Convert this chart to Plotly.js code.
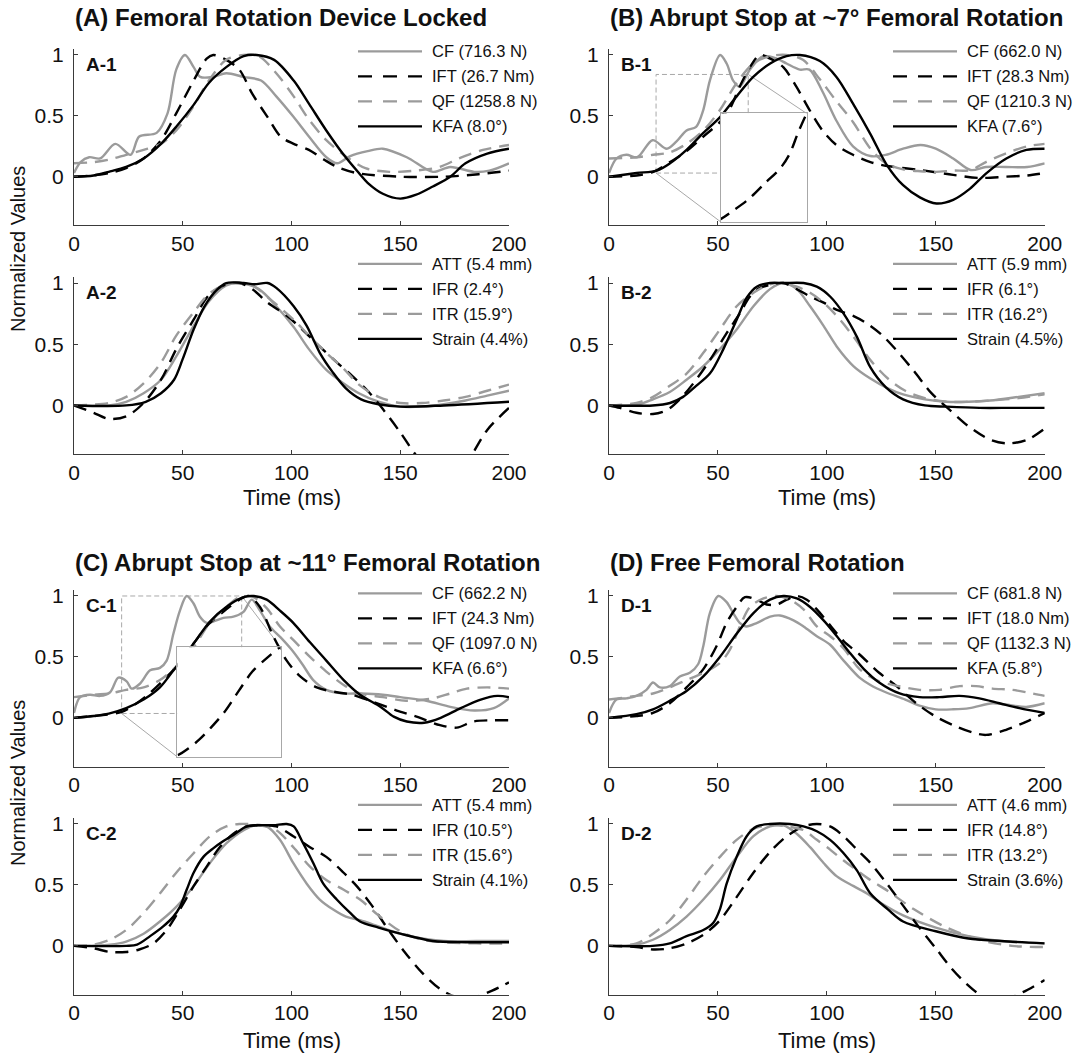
<!DOCTYPE html>
<html><head><meta charset="utf-8">
<script src="https://cdn.plot.ly/plotly-3.0.1.min.js"></script>
<style>html,body{margin:0;padding:0;background:#fff}</style>
</head><body><div id="chart" style="width:1076px;height:1055px"></div>
<script>
// ---------------- DATA ----------------
const T_TICKS = [0, 50, 100, 150, 200];
const V_TICKS = [0, 0.5, 1];
const V_TICK_TEXT = ['0', '0.5', '1'];

const PANEL_TITLES = ['(A) Femoral Rotation Device Locked', '(B) Abrupt Stop at ~7° Femoral Rotation',
  '(C) Abrupt Stop at ~11° Femoral Rotation', '(D) Free Femoral Rotation'];
const SUB_LABELS = ['A-1', 'B-1', 'A-2', 'B-2', 'C-1', 'D-1', 'C-2', 'D-2'];

const A1_LEGEND = ['CF (716.3 N)', 'IFT (26.7 Nm)', 'QF (1258.8 N)', 'KFA (8.0°)'];
const B1_LEGEND = ['CF (662.0 N)', 'IFT (28.3 Nm)', 'QF (1210.3 N)', 'KFA (7.6°)'];
const C1_LEGEND = ['CF (662.2 N)', 'IFT (24.3 Nm)', 'QF (1097.0 N)', 'KFA (6.6°)'];
const D1_LEGEND = ['CF (681.8 N)', 'IFT (18.0 Nm)', 'QF (1132.3 N)', 'KFA (5.8°)'];
const A2_LEGEND = ['ATT (5.4 mm)', 'IFR (2.4°)', 'ITR (15.9°)', 'Strain (4.4%)'];
const B2_LEGEND = ['ATT (5.9 mm)', 'IFR (6.1°)', 'ITR (16.2°)', 'Strain (4.5%)'];
const C2_LEGEND = ['ATT (5.4 mm)', 'IFR (10.5°)', 'ITR (15.6°)', 'Strain (4.1%)'];
const D2_LEGEND = ['ATT (4.6 mm)', 'IFR (14.8°)', 'ITR (13.2°)', 'Strain (3.6%)'];

// A-1
const A1_CF_t = [0,3,7,12,19,26,30,38,43,47,51,55,58,64,70,78,86,93,101,108,116,121,127,135,142,153,165,173,184,191,200];
const A1_CF_v = [0.03,0.12,0.16,0.15,0.27,0.18,0.33,0.36,0.52,0.88,1.0,0.9,0.82,0.82,0.85,0.82,0.79,0.66,0.49,0.33,0.16,0.11,0.17,0.21,0.23,0.16,0.04,0.08,0.04,0.05,0.11];
const A1_IFT_t = [0,8,16,24,32,40,47,55,61,64,70,76,82,89,95,101,108,115,121,130,150,170,186,200];
const A1_IFT_v = [0,0.01,0.03,0.07,0.15,0.3,0.52,0.79,0.97,1.0,0.96,0.88,0.68,0.49,0.33,0.27,0.22,0.14,0.08,0.03,0.0,0.0,0.02,0.05];
const A1_QF_t = [0,9,16,24,32,40,47,55,62,70,78,85,93,101,108,116,124,134,145,157,168,177,188,200];
const A1_QF_v = [0.11,0.12,0.14,0.18,0.22,0.27,0.38,0.58,0.79,0.96,1.0,0.99,0.85,0.66,0.47,0.3,0.18,0.07,0.04,0.05,0.08,0.15,0.22,0.26];
const A1_KFA_t = [0,9,16,24,32,40,47,55,62,70,78,84,92,101,108,116,124,131,135,142,150,157,165,173,180,190,200];
const A1_KFA_v = [0,0.01,0.04,0.08,0.15,0.27,0.41,0.59,0.77,0.9,0.99,1.0,0.96,0.79,0.6,0.38,0.18,0.03,-0.05,-0.14,-0.18,-0.15,-0.08,0.0,0.11,0.19,0.23];

// A-2
const A2_ATT_t = [0,16,24,32,40,47,55,62,70,76,85,93,101,108,116,124,131,140,150,160,170,180,190,200];
const A2_ATT_v = [0,0,0.03,0.1,0.21,0.4,0.65,0.85,0.98,1.0,0.95,0.81,0.64,0.46,0.29,0.18,0.1,0.03,-0.01,-0.01,0.01,0.04,0.08,0.12];
const A2_IFR_t = [0,9,16,24,32,40,47,55,62,70,76,82,89,98,105,113,121,128,135,142,150,157,165,172,178,183,190,200];
const A2_IFR_v = [0,-0.06,-0.11,-0.09,0.02,0.21,0.46,0.7,0.9,0.99,1.0,0.95,0.84,0.73,0.62,0.48,0.35,0.24,0.12,-0.03,-0.22,-0.4,-0.55,-0.6,-0.52,-0.4,-0.2,-0.02];
const A2_ITR_t = [0,16,24,32,40,47,55,62,70,75,82,90,101,108,116,124,131,140,150,160,170,180,190,200];
const A2_ITR_v = [0,0.02,0.07,0.18,0.35,0.57,0.76,0.91,0.99,1.0,0.98,0.87,0.7,0.57,0.43,0.3,0.17,0.07,0.02,0.02,0.04,0.07,0.12,0.17];
const A2_STR_t = [0,24,33,40,46,50,55,60,66,70,78,83,89,93,101,107,113,119,125,132,140,150,170,200];
const A2_STR_v = [0,0,0.03,0.1,0.21,0.38,0.62,0.81,0.95,1.0,1.0,0.99,1.0,0.96,0.81,0.65,0.43,0.27,0.14,0.05,0.01,-0.01,0.0,0.03];

// B-1
const B1_CF_t = [0,3.5,8,13,20,26.5,31,35.6,40,43.3,46.3,51,54,57,60,64.7,70.8,77,81.5,87.6,92,98,104.4,112,120,127,135,143,150,158,166,173,182,192,200];
const B1_CF_v = [0.03,0.15,0.18,0.16,0.3,0.23,0.29,0.38,0.41,0.55,0.79,1.0,0.93,0.79,0.74,0.88,0.99,0.97,0.93,0.88,0.88,0.7,0.46,0.25,0.17,0.18,0.23,0.26,0.23,0.15,0.055,0.08,0.08,0.08,0.11];
const B1_IFT_t = [0,12.7,20.3,28,35.6,43.3,51,55.5,60,64.7,69.3,74,80,86,92,98,104.4,112,120,127,143,158,170,182,192,200];
const B1_IFT_v = [0,0.01,0.04,0.12,0.21,0.33,0.45,0.56,0.74,0.9,1.0,0.97,0.9,0.74,0.55,0.38,0.26,0.18,0.12,0.09,0.055,0.015,-0.01,0.0,0.01,0.03];
const B1_QF_t = [0,12.7,20.3,28,35.6,43.3,51,58.6,66.2,74,81.5,89,96.8,104.4,112,120,127,135,143,150,158,166,173,182,192,200];
const B1_QF_v = [0.15,0.16,0.18,0.2,0.27,0.38,0.55,0.77,0.93,0.99,1.0,0.96,0.8,0.62,0.45,0.23,0.11,0.06,0.045,0.04,0.05,0.055,0.12,0.19,0.25,0.27];
const B1_KFA_t = [0,12.7,22,28,35.6,43.3,51,58.6,66.2,74,81.5,87.6,96.8,104.4,112,120,127.4,135,142.7,150.3,158,165.6,173.3,182.4,191.6,200];
const B1_KFA_v = [0,0.03,0.05,0.11,0.22,0.36,0.49,0.66,0.82,0.93,0.99,1.0,0.95,0.82,0.6,0.35,0.1,-0.07,-0.17,-0.22,-0.19,-0.1,0.03,0.15,0.22,0.23];

// B-2
const B2_ATT_t = [0,12.6,20.2,27.9,35.6,43.3,50.9,58.6,66.3,73.9,80,86.2,92.3,98.5,104.6,112.3,120,128,135,145,155,165,175,188,200];
const B2_ATT_v = [0,0.005,0.05,0.11,0.21,0.32,0.46,0.62,0.81,0.95,1.0,0.95,0.81,0.65,0.48,0.32,0.22,0.14,0.09,0.05,0.03,0.03,0.04,0.07,0.1];
const B2_IFR_t = [0,5,12.6,20.2,26.4,32.5,38.7,46.3,54,60,64.7,69.3,75.5,80,86.2,92.3,98.5,104.6,112.3,118.4,125,132,140,148,156,165,175,183,192,200];
const B2_IFR_v = [0,-0.02,-0.06,-0.07,-0.04,0.05,0.18,0.37,0.59,0.75,0.89,0.96,0.99,1.0,0.95,0.89,0.84,0.78,0.73,0.67,0.58,0.45,0.28,0.1,-0.03,-0.17,-0.28,-0.31,-0.28,-0.19];
const B2_ITR_t = [0,12.6,20.2,27.9,35.6,43.3,50.9,58.6,66.3,73.9,80,86.2,92.3,98.5,104.6,112.3,120,128,136,145,155,165,175,188,200];
const B2_ITR_v = [0,0.02,0.07,0.16,0.26,0.43,0.62,0.81,0.92,0.99,1.0,0.97,0.92,0.84,0.73,0.56,0.37,0.22,0.12,0.06,0.03,0.03,0.04,0.06,0.09];
const B2_STR_t = [0,20,28,34,40,46.3,52.5,58.6,63.2,67.8,73.9,80,89.3,95.4,101.5,107.7,113.8,120,127,135,145,155,170,185,200];
const B2_STR_v = [0,0,0.02,0.07,0.16,0.26,0.46,0.7,0.88,0.97,1.0,1.0,1.0,0.97,0.89,0.75,0.56,0.31,0.15,0.05,0.0,-0.01,-0.02,-0.02,-0.02];

// C-1
const C1_CF_t = [0,2.8,7.4,12,16.6,20.4,24.2,26.5,30.3,35,39.5,42.6,45.7,48.7,51.8,54.9,57.9,61,64,68.7,73.3,77.9,81.7,85.5,90,95,100,105,110,116,124,132,142,150,162,173,184,193,200];
const C1_CF_v = [0.04,0.17,0.19,0.18,0.21,0.33,0.3,0.24,0.28,0.39,0.41,0.47,0.69,0.88,1.0,0.94,0.83,0.78,0.79,0.82,0.83,0.87,0.97,0.88,0.75,0.66,0.56,0.44,0.31,0.23,0.2,0.2,0.19,0.17,0.14,0.09,0.06,0.08,0.16];
const C1_IFT_t = [0,12,22,28,34,40,47,55,62,70,76,80.2,85.5,91.6,97.8,104,111.6,120.8,128,137.6,148.4,157.5,168.3,176,183.6,192.8,200];
const C1_IFT_v = [0,0.02,0.05,0.11,0.19,0.29,0.42,0.61,0.77,0.89,0.97,1.0,0.91,0.67,0.47,0.34,0.25,0.21,0.19,0.13,0.06,0.01,-0.06,-0.08,-0.03,-0.02,-0.02];
const C1_QF_t = [0,9,16.5,24,32,39.5,47,55,62.5,70,76,82.5,88.6,94.7,100.8,108.5,116,124,131.5,142,152.7,165,173,180.6,190,200];
const C1_QF_v = [0.17,0.19,0.2,0.23,0.25,0.31,0.42,0.58,0.78,0.91,0.99,0.99,0.9,0.75,0.64,0.5,0.38,0.27,0.2,0.17,0.14,0.16,0.2,0.24,0.25,0.24];
const C1_KFA_t = [0,9,16,24,32,39.5,47,55,62.5,70,78,82.5,88.6,94.7,100.8,108.5,116,124,131.5,141,147,153,161,168.6,177.8,187,194.6,200];
const C1_KFA_v = [0,0.015,0.035,0.08,0.15,0.25,0.42,0.61,0.79,0.91,0.99,1.0,0.97,0.88,0.78,0.62,0.47,0.31,0.19,0.09,0.01,-0.03,-0.04,0.0,0.08,0.15,0.18,0.17];

// C-2
const C2_ATT_t = [0,16.5,24,32,39.5,47,55,62.5,70,78,84,88.6,94.7,100.8,107,113,119,125,131.5,140,150,160,170,185,200];
const C2_ATT_v = [0,0.01,0.035,0.1,0.2,0.32,0.49,0.68,0.84,0.95,0.99,0.98,0.87,0.68,0.51,0.38,0.3,0.24,0.21,0.16,0.1,0.06,0.04,0.04,0.04];
const C2_IFR_t = [0,9,16.5,24,30,36.5,42.6,48.7,55,61,67,73.3,79.4,85.5,93,100.8,108.5,116,124,130,137,145,152,160,168,176,184,192,200];
const C2_IFR_v = [0,-0.02,-0.05,-0.05,-0.03,0.02,0.13,0.3,0.49,0.65,0.81,0.92,0.98,0.99,0.98,0.9,0.81,0.73,0.6,0.49,0.33,0.12,-0.05,-0.22,-0.35,-0.42,-0.42,-0.37,-0.3];
const C2_ITR_t = [0,9,16.5,24,32,39.5,47,55,62.5,70,76,85.5,93,100.8,108.5,116,124,131.5,140,150,160,170,185,200];
const C2_ITR_v = [0,0.01,0.05,0.13,0.27,0.43,0.6,0.76,0.9,0.98,1.0,0.99,0.95,0.81,0.65,0.54,0.46,0.38,0.25,0.12,0.05,0.03,0.02,0.02];
const C2_STR_t = [0,24,29,35,41,45.7,48.7,51.8,55,59.5,64,68.7,73.3,79.4,85.5,91.6,97.8,101,105.4,110,114.6,120.8,127,131.5,140,150,165,180,200];
const C2_STR_v = [0,0,0.01,0.08,0.16,0.24,0.32,0.46,0.6,0.73,0.8,0.86,0.91,0.98,0.99,0.99,1.0,0.98,0.84,0.68,0.51,0.38,0.27,0.2,0.15,0.1,0.04,0.03,0.03];

// D-1
const D1_CF_t = [0,3.4,8,12.6,17.2,20.2,23.3,27.9,32.5,37.1,40.9,43.3,46.3,50.2,54,57,60,63,68,74,78.5,84.7,89.3,95.4,101.5,107.7,115,120,127,136,142.5,150,158,165.5,176,182,191.5,200];
const D1_CF_v = [0.04,0.15,0.16,0.18,0.23,0.29,0.25,0.26,0.34,0.37,0.44,0.59,0.86,1.0,0.95,0.86,0.78,0.75,0.78,0.83,0.84,0.8,0.75,0.67,0.6,0.47,0.33,0.27,0.21,0.15,0.1,0.07,0.07,0.08,0.12,0.11,0.09,0.12];
const D1_IFT_t = [0,12.6,20.2,27.9,35.6,43.3,49.4,54,58.6,62.4,67.8,72.4,77,81.6,86.2,90.8,95.4,101.5,107.7,115,124,132,141,150,158,167,173,182,193,200];
const D1_IFT_v = [0,0.015,0.04,0.12,0.25,0.4,0.59,0.78,0.91,0.99,0.97,0.93,0.93,0.97,1.0,0.97,0.89,0.76,0.63,0.52,0.37,0.26,0.12,0.01,-0.06,-0.12,-0.14,-0.1,-0.02,0.04];
const D1_QF_t = [0,12.6,20.2,27.9,35.6,43.3,50.9,55.5,60.1,64.7,70.9,77,83.1,89.3,95.4,101.5,107.7,115,124,133,142.5,151.7,161,168.5,176,185,194.5,200];
const D1_QF_v = [0.15,0.18,0.2,0.25,0.31,0.37,0.45,0.56,0.75,0.91,0.98,1.0,0.97,0.89,0.75,0.67,0.57,0.4,0.3,0.26,0.23,0.23,0.26,0.26,0.24,0.23,0.2,0.18];
const D1_KFA_t = [0,12.6,20.2,27.9,35.6,43.3,50.9,58.6,66.3,73.9,80,86.2,92.3,98.5,104.6,110.7,117,124,133.4,142.5,151.7,160.9,170,179.2,188.4,200];
const D1_KFA_v = [0,0.03,0.07,0.14,0.22,0.34,0.5,0.69,0.86,0.97,1.0,0.98,0.91,0.8,0.67,0.53,0.4,0.29,0.2,0.17,0.17,0.18,0.16,0.12,0.08,0.04];

// D-2
const D2_ATT_t = [0,12.6,20.2,27.9,35.6,43.3,50.9,58.6,66.3,73.9,80,86.2,92.3,98.5,104.6,112.3,118.4,125,135,150,165,180,200];
const D2_ATT_v = [0,0.01,0.05,0.13,0.24,0.38,0.54,0.73,0.9,0.98,0.99,0.92,0.81,0.68,0.57,0.49,0.43,0.35,0.25,0.15,0.08,0.04,0.02];
const D2_IFR_t = [0,12.6,20.2,27.9,35.6,43.3,50.9,58.6,66.3,73.9,81.6,89.3,95.4,101.5,107.7,113.8,120,128,135,142,150,157,164,172,180,190,200];
const D2_IFR_v = [0,-0.01,-0.03,-0.02,0.02,0.09,0.21,0.4,0.6,0.77,0.9,0.98,1.0,0.98,0.9,0.79,0.68,0.5,0.33,0.16,-0.02,-0.18,-0.31,-0.42,-0.45,-0.38,-0.28];
const D2_ITR_t = [0,12.6,20.2,27.9,35.6,43.3,50.9,58.6,66.3,73.9,81.6,89.3,95.4,101.5,107.7,113.8,120,128,140,155,170,185,200];
const D2_ITR_v = [0,0.02,0.1,0.21,0.38,0.57,0.73,0.87,0.96,0.99,0.98,0.95,0.87,0.79,0.7,0.62,0.54,0.45,0.3,0.15,0.05,0.0,-0.01];
const D2_STR_t = [0,20,27.9,35.6,43.3,47.9,50.9,54,58.6,63.2,67.8,73.9,83,89.3,95.4,101.5,107.7,113.8,120,128,135,150,165,180,200];
const D2_STR_v = [0,0,0.02,0.08,0.13,0.19,0.3,0.51,0.73,0.9,0.98,1.0,1.0,0.98,0.94,0.87,0.76,0.62,0.43,0.3,0.2,0.12,0.06,0.04,0.02];

// ---------------- LAYOUT / STYLE ----------------
const W = 1076, H = 1055;
const FONT = 'Liberation Sans, Arial, Helvetica, sans-serif';
const GRAY = '#9b9b9b', BLACK = '#000000', AXIS = '#3a3a3a';
const LINE_W = 2.4;
const DASH = '13px,8px';
const STYLES = [
  {color: GRAY, dash: 'solid'}, {color: BLACK, dash: DASH},
  {color: GRAY, dash: DASH}, {color: BLACK, dash: 'solid'}
];
const COLS = [[74, 509], [609, 1044.7]];
const ROWS = [[48.9, 225.4], [276.9, 454.4], [589.9, 766.6], [817.9, 994.6]];
const LEG_OFFS = [2.5, -13, 3.5, -13];
const TITLE_Y = [17, 562];
const T_RANGE = [0, 200], V_RANGE = [-0.4, 1.05];

const px = x => x / W;
const py = y => 1 - y / H;

const SUBPLOTS = [
  {n: 1, col: 0, row: 0, series: [[A1_CF_t, A1_CF_v], [A1_IFT_t, A1_IFT_v], [A1_QF_t, A1_QF_v], [A1_KFA_t, A1_KFA_v]], legend: A1_LEGEND},
  {n: 2, col: 1, row: 0, series: [[B1_CF_t, B1_CF_v], [B1_IFT_t, B1_IFT_v], [B1_QF_t, B1_QF_v], [B1_KFA_t, B1_KFA_v]], legend: B1_LEGEND},
  {n: 3, col: 0, row: 1, series: [[A2_ATT_t, A2_ATT_v], [A2_IFR_t, A2_IFR_v], [A2_ITR_t, A2_ITR_v], [A2_STR_t, A2_STR_v]], legend: A2_LEGEND},
  {n: 4, col: 1, row: 1, series: [[B2_ATT_t, B2_ATT_v], [B2_IFR_t, B2_IFR_v], [B2_ITR_t, B2_ITR_v], [B2_STR_t, B2_STR_v]], legend: B2_LEGEND},
  {n: 5, col: 0, row: 2, series: [[C1_CF_t, C1_CF_v], [C1_IFT_t, C1_IFT_v], [C1_QF_t, C1_QF_v], [C1_KFA_t, C1_KFA_v]], legend: C1_LEGEND},
  {n: 6, col: 1, row: 2, series: [[D1_CF_t, D1_CF_v], [D1_IFT_t, D1_IFT_v], [D1_QF_t, D1_QF_v], [D1_KFA_t, D1_KFA_v]], legend: D1_LEGEND},
  {n: 7, col: 0, row: 3, series: [[C2_ATT_t, C2_ATT_v], [C2_IFR_t, C2_IFR_v], [C2_ITR_t, C2_ITR_v], [C2_STR_t, C2_STR_v]], legend: C2_LEGEND},
  {n: 8, col: 1, row: 3, series: [[D2_ATT_t, D2_ATT_v], [D2_IFR_t, D2_IFR_v], [D2_ITR_t, D2_ITR_v], [D2_STR_t, D2_STR_v]], legend: D2_LEGEND}
];

// zoom insets (positions in parent data units)
const INSETS = [
  {n: 9, parent: 2, src: [21.6, 63.9, 0.03, 0.84], box: [51.2, 90.7, -0.37, 0.52], yr: [0.03, 0.88], data: [B1_IFT_t, B1_IFT_v]},
  {n: 10, parent: 5, src: [21.9, 77.1, 0.036, 1.0], box: [47.5, 95, -0.32, 0.58], yr: [0.036, 0.98], data: [C1_IFT_t, C1_IFT_v]}
];

const ax = n => n === 1 ? ['x', 'y'] : ['x' + n, 'y' + n];
const axKey = n => n === 1 ? ['xaxis', 'yaxis'] : ['xaxis' + n, 'yaxis' + n];

const traces = [], shapes = [], annotations = [];
const layout = {
  width: W, height: H, margin: {l: 0, r: 0, t: 0, b: 0},
  paper_bgcolor: '#ffffff', plot_bgcolor: '#ffffff',
  showlegend: false, font: {family: FONT, color: '#111', size: 16}
};

function subplotGeom(sp) {
  return {x0: COLS[sp.col][0], x1: COLS[sp.col][1], yT: ROWS[sp.row][0], yB: ROWS[sp.row][1]};
}
function dataToPx(g, t, v) {
  return [g.x0 + (t - T_RANGE[0]) / (T_RANGE[1] - T_RANGE[0]) * (g.x1 - g.x0),
          g.yB - (v - V_RANGE[0]) / (V_RANGE[1] - V_RANGE[0]) * (g.yB - g.yT)];
}

SUBPLOTS.forEach((sp, i) => {
  const g = subplotGeom(sp);
  const [xa, ya] = ax(sp.n);
  const [xk, yk] = axKey(sp.n);
  layout[xk] = {
    domain: [px(g.x0), px(g.x1)], range: T_RANGE, anchor: ya,
    tickmode: 'array', tickvals: T_TICKS, ticks: 'inside', ticklen: 4, tickcolor: AXIS,
    showline: true, linecolor: AXIS, linewidth: 1, zeroline: false, showgrid: false,
    tickfont: {family: FONT, size: 21, color: '#111'}, ticklabelstandoff: -1, fixedrange: true
  };
  layout[yk] = {
    domain: [py(g.yB), py(g.yT)], range: V_RANGE, anchor: xa,
    tickmode: 'array', tickvals: V_TICKS, ticktext: V_TICK_TEXT, ticks: 'inside', ticklen: 4, tickcolor: AXIS,
    showline: true, linecolor: AXIS, linewidth: 1, zeroline: false, showgrid: false,
    tickfont: {family: FONT, size: 21, color: '#111'}, ticklabelstandoff: 5, fixedrange: true
  };
  sp.series.forEach((s, k) => {
    traces.push({
      type: 'scatter', mode: 'lines', x: s[0], y: s[1], xaxis: xa, yaxis: ya,
      name: sp.legend[k], hoverinfo: 'skip',
      line: {color: STYLES[k].color, dash: STYLES[k].dash, width: LINE_W, shape: 'spline', smoothing: 0.9}
    });
  });
  // legend drawn as samples + text
  sp.legend.forEach((txt, k) => {
    const y = g.yT + LEG_OFFS[sp.row] + k * 25;
    shapes.push({type: 'line', xref: 'paper', yref: 'paper', layer: 'above',
      x0: px(g.x0 + 284), x1: px(g.x0 + 348), y0: py(y), y1: py(y),
      line: {color: STYLES[k].color, width: LINE_W, dash: STYLES[k].dash === 'solid' ? 'solid' : '14px,11px'}});
    annotations.push({xref: 'paper', yref: 'paper', x: px(g.x0 + 356), y: py(y), xanchor: 'left', yanchor: 'middle',
      text: txt, showarrow: false, font: {family: FONT, size: 16.5, color: '#111'}});
  });
  // sub label
  annotations.push({xref: 'paper', yref: 'paper', x: px(g.x0 + 10), y: py(g.yT + 15.5), xanchor: 'left', yanchor: 'middle',
    text: '<b>' + SUB_LABELS[i] + '</b>', showarrow: false, font: {family: FONT, size: 19, color: '#111'}});
});

// insets
INSETS.forEach(ins => {
  const sp = SUBPLOTS.find(s => s.n === ins.parent);
  const g = subplotGeom(sp);
  const [pxa, pya] = ax(ins.parent);
  const bl = dataToPx(g, ins.box[0], ins.box[2]);
  const tr = dataToPx(g, ins.box[1], ins.box[3]);
  const xk = 'xaxis' + ins.n, yk = 'yaxis' + ins.n;
  layout[xk] = {domain: [px(bl[0]), px(tr[0])], range: [ins.src[0], ins.src[1]], anchor: 'y' + ins.n,
    showline: true, mirror: true, linecolor: '#a8a8a8', linewidth: 1, ticks: '', showticklabels: false,
    zeroline: false, showgrid: false, fixedrange: true};
  layout[yk] = {domain: [py(bl[1]), py(tr[1])], range: ins.yr, anchor: 'x' + ins.n,
    showline: true, mirror: true, linecolor: '#a8a8a8', linewidth: 1, ticks: '', showticklabels: false,
    zeroline: false, showgrid: false, fixedrange: true};
  traces.push({type: 'scatter', mode: 'lines', x: ins.data[0], y: ins.data[1], xaxis: 'x' + ins.n, yaxis: 'y' + ins.n,
    hoverinfo: 'skip', line: {color: BLACK, dash: DASH, width: LINE_W, shape: 'spline', smoothing: 0.9}});
  // source rectangle and connectors
  shapes.push({type: 'rect', xref: pxa, yref: pya, layer: 'below', x0: ins.src[0], x1: ins.src[1], y0: ins.src[2], y1: ins.src[3],
    line: {color: '#a8a8a8', width: 1, dash: '5px,3px'}, fillcolor: 'rgba(0,0,0,0)'});
  shapes.push({type: 'line', xref: pxa, yref: pya, layer: 'below', x0: ins.src[0], y0: ins.src[2], x1: ins.box[0], y1: ins.box[2],
    line: {color: '#a8a8a8', width: 1}});
  shapes.push({type: 'line', xref: pxa, yref: pya, layer: 'below', x0: ins.src[1], y0: ins.src[3], x1: ins.box[1], y1: ins.box[3],
    line: {color: '#a8a8a8', width: 1}});
});

// panel titles
[[0, 0], [1, 0], [0, 1], [1, 1]].forEach(([c, r], i) => {
  annotations.push({xref: 'paper', yref: 'paper', x: px(COLS[c][0] - 1), y: py(TITLE_Y[r]), xanchor: 'left', yanchor: 'middle',
    text: '<b>' + PANEL_TITLES[i] + '</b>', showarrow: false, font: {family: FONT, size: 24, color: '#111'}});
});
// axis titles
[249, 783].forEach(y => {
  annotations.push({xref: 'paper', yref: 'paper', x: px(18), y: py(y), xanchor: 'center', yanchor: 'middle', textangle: -90,
    text: 'Normalized Values', showarrow: false, font: {family: FONT, size: 20, color: '#111'}});
});
[[291.5, 497], [827, 497], [291.5, 1040], [827, 1040]].forEach(([x, y]) => {
  annotations.push({xref: 'paper', yref: 'paper', x: px(x), y: py(y), xanchor: 'center', yanchor: 'middle',
    text: 'Time (ms)', showarrow: false, font: {family: FONT, size: 22, color: '#111'}});
});

layout.shapes = shapes;
layout.annotations = annotations;
Plotly.newPlot('chart', traces, layout, {displayModeBar: false, staticPlot: true});
</script></body></html>
